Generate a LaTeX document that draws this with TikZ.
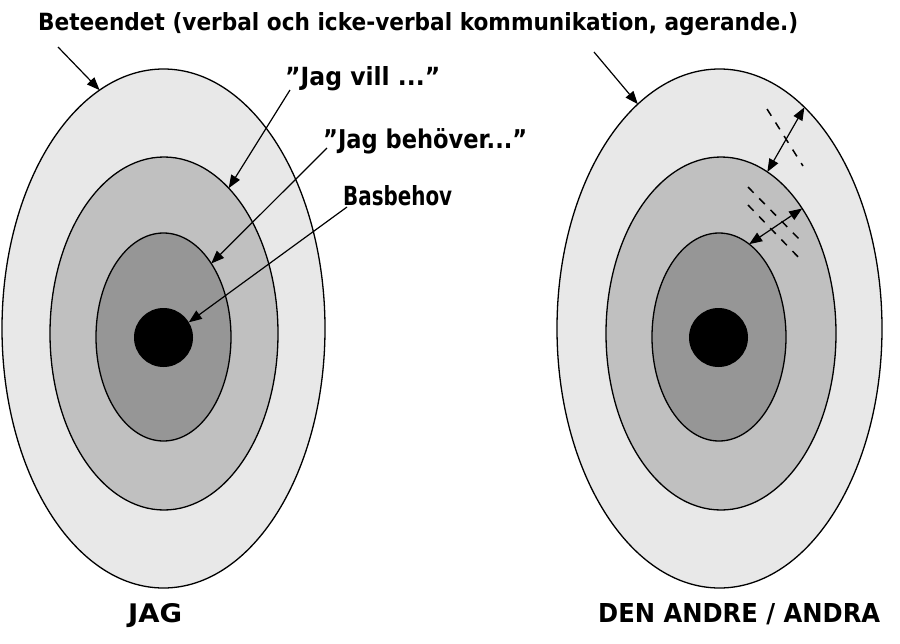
\documentclass[tikz,border=0pt]{standalone}
\usepackage{fontspec}
\usepackage{graphicx}
\setmainfont{DejaVu Sans}
\usetikzlibrary{arrows.meta,shapes.geometric}
\definecolor{outerg}{HTML}{E8E8E8}
\definecolor{midg}{HTML}{C0C0C0}
\definecolor{innerg}{HTML}{969696}
\begin{document}
\begin{tikzpicture}[x=1pt,y=-1pt,
  ring/.style={ellipse,draw=black,line width=1.3pt,inner sep=0pt,outer sep=0pt},
  core/.style={circle,fill=black,inner sep=0pt,outer sep=0pt,minimum size=59pt},
  lbl/.style={anchor=base west,inner sep=0pt,font=\bfseries},
  pointer/.style={line width=1.2pt,-{Triangle[length=13pt,width=10pt]}},
  twoway/.style={line width=1.2pt,{Triangle[length=13pt,width=10pt]}-{Triangle[length=13pt,width=10pt]}},
  dashline/.style={line width=1.5pt,dash pattern=on 8pt off 8pt}]
\useasboundingbox (0,0) rectangle (900,643);

% left: JAG
\node[ring,fill=outerg,minimum width=323pt,minimum height=519pt] (Lout) at (163.5,328.5) {};
\node[ring,fill=midg,minimum width=228pt,minimum height=353pt] (Lmid) at (164,333.5) {};
\node[ring,fill=innerg,minimum width=135pt,minimum height=208pt] (Lin) at (163.5,337) {};
\node[core] (Ldot) at (163.5,337.5) {};

% right: DEN ANDRE
\node[ring,fill=outerg,minimum width=325pt,minimum height=519pt] (Rout) at (719.5,328.5) {};
\node[ring,fill=midg,minimum width=230pt,minimum height=353pt] (Rmid) at (721,333.5) {};
\node[ring,fill=innerg,minimum width=134pt,minimum height=208pt] (Rin) at (719,337) {};
\node[core] (Rdot) at (718.5,337.5) {};

% texts
\node[lbl] (title) at (38,30) {\resizebox{760pt}{18pt}{Beteendet (verbal och icke-verbal kommunikation, agerande.)}};
\node[lbl] (vill) at (285,85) {\resizebox{155pt}{19pt}{”Jag vill ...”}};
\node[lbl] (behover) at (323,148) {\resizebox{204pt}{20pt}{”Jag behöver...”}};
\node[lbl] (bas) at (343,205) {\resizebox{109pt}{20pt}{Basbehov}};
\node[lbl] (jag) at (128,622) {\resizebox{54pt}{19pt}{JAG}};
\node[lbl] (andre) at (598,622) {\resizebox{282pt}{19pt}{DEN ANDRE / ANDRA}};

% arrow starts
\coordinate (s1) at (58,47);
\coordinate (s2) at (594,52);
\coordinate (s3) at (290,90);
\coordinate (s4) at (327,148);
\coordinate (s5) at (347,207);

\draw[pointer] (s1) -- (Lout.105.6);
\draw[pointer] (s2) -- (Rout.110);
\draw[pointer] (s3) -- (Lmid.66.4);
\draw[pointer] (s4) -- (Lin.57.8);
\draw[pointer] (s5) -- (Ldot.31.6);

% dashed boundaries and two-way arrows
\draw[dashline] (767,109) -- (803,166);
\draw[dashline] (748,187) -- (803,243);
\draw[dashline] (748,205) -- (803,262);
\draw[twoway] (Rout.69.6) -- (Rmid.74.9);
\draw[twoway] (Rmid.57.6) -- (Rin.72.3);
\end{tikzpicture}
\end{document}
